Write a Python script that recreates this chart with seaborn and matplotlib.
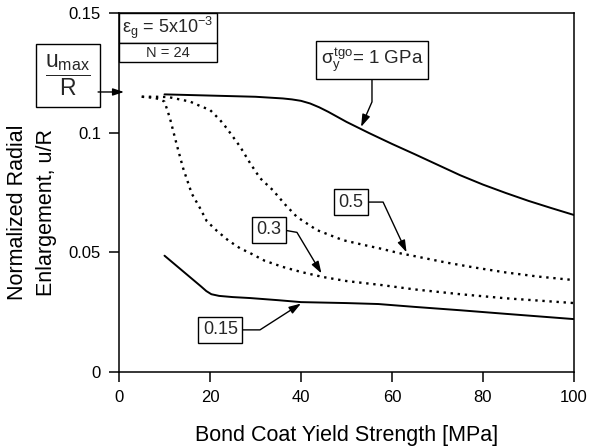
import matplotlib
matplotlib.use('Agg')
import matplotlib.pyplot as plt
import seaborn as sns
import pandas as pd
from matplotlib.patches import Rectangle

# ---------------- data ----------------
x_1gpa = [10, 20, 30, 36, 38, 40, 42, 44, 46, 48, 50, 55, 60, 65, 70, 75, 80, 85, 90, 95, 100]
y_1gpa = [.1160, .1155, .1150, .1143, .1139, .1133, .1122, .1106, .1087, .1066, .1045,
          .0998, .0953, .0910, .0866, .0822, .0783, .0748, .0715, .0685, .0656]

x_05 = [5, 8, 10.8, 15.6, 18, 20, 22.2, 23.7, 26.6, 28.8, 31, 33.8, 36.5, 39.1,
        43.5, 49.2, 54, 57.4, 61.5, 65, 72, 78.3, 85, 92, 100]
y_05 = [.1150, .1150, .1149, .1130, .1110, .1095, .1053, .1018, .0942, .0873,
        .0810, .0760, .0700, .0648, .0593, .0551, .0530, .0516, .0497, .0484,
        .0457, .0436, .0416, .0399, .0384]

x_03 = [5, 8, 10, 11.2, 12.7, 14.1, 16, 17.8, 19.3, 21.5, 24, 26.6, 28.8, 32, 36,
        40, 44.8, 50, 57.4, 65, 75, 85, 100]
y_03 = [.1150, .1145, .1130, .1060, .0949, .0851, .0745, .0685, .0630, .0590,
        .0550, .0517, .0497, .0465, .0439, .0418, .0397, .0380, .0364, .0345,
        .0325, .0308, .0288]

x_015 = [10, 12, 14, 16, 18, 19.2, 20.3, 22, 25, 28.8, 35, 40, 50, 57, 65, 75, 85, 100]
y_015 = [.0486, .0454, .0422, .0390, .0358, .0338, .0325, .0318, .0313, .0309,
         .0300, .0292, .0288, .0284, .0272, .0258, .0243, .0221]

series_labels = ['1 GPa', '0.5', '0.3', '0.15']
x_ticks = [0, 20, 40, 60, 80, 100]
y_ticks = [0, 0.05, 0.1, 0.15]
y_tick_labels = ['0', '0.05', '0.1', '0.15']

# ---------------- style ----------------
sns.set_theme(style='ticks')
plt.rcParams['font.family'] = ['Liberation Sans', 'DejaVu Sans']
plt.rcParams['mathtext.fontset'] = 'custom'
plt.rcParams['mathtext.rm'] = 'Liberation Sans'
plt.rcParams['mathtext.it'] = 'Liberation Sans'
plt.rcParams['mathtext.sf'] = 'Liberation Sans'
plt.rcParams['mathtext.bf'] = 'Liberation Sans:bold'

fig = plt.figure(figsize=(5.91, 4.48), dpi=100)
ax = fig.add_axes([119 / 591, 1 - 372 / 448, 455 / 591, 359 / 448])

frames = []
for lab, xs, ys in zip(series_labels, [x_1gpa, x_05, x_03, x_015],
                       [y_1gpa, y_05, y_03, y_015]):
    frames.append(pd.DataFrame({'x': xs, 'y': ys, 'series': lab}))
df = pd.concat(frames, ignore_index=True)

styles = {'1 GPa': '-', '0.5': (0, (1, 2)), '0.3': (0, (1, 2)), '0.15': '-'}
widths = {'1 GPa': 1.4, '0.5': 1.7, '0.3': 1.7, '0.15': 1.4}
for lab in series_labels:
    sub = df[df['series'] == lab]
    sns.lineplot(data=sub, x='x', y='y', ax=ax, color='black',
                 linestyle=styles[lab], linewidth=widths[lab], legend=False)

ax.set_xlim(0, 100)
ax.set_ylim(0, 0.15)
ax.set_xticks(x_ticks)
ax.set_yticks(y_ticks)
ax.set_yticklabels(y_tick_labels)
ax.tick_params(axis='both', direction='out', length=7, width=1.1,
               labelsize=12, color='black', labelcolor='black')
ax.tick_params(axis='y', pad=6)
ax.tick_params(axis='x', pad=6)
for s in ax.spines.values():
    s.set_visible(True)
    s.set_linewidth(1.1)
    s.set_color('black')

ax.set_xlabel('Bond Coat Yield Strength [MPa]', fontsize=15.5, color='black', labelpad=14)
ax.set_ylabel('')
fig.text(32 / 591, 1 - 212 / 448, 'Normalized Radial\nEnlargement, u/R',
         rotation=90, ha='center', va='center', fontsize=15.5, color='black',
         multialignment='center', linespacing=1.5)

# ---------------- annotations ----------------
bbox = dict(boxstyle='square,pad=0.25', fc='white', ec='black', lw=1.0)


def arrowp(**kw):
    d = dict(arrowstyle='-|>,head_length=0.55,head_width=0.18', color='black',
             lw=1.0, shrinkA=0, shrinkB=0)
    d.update(kw)
    return d


ax.annotate(r'$\sigma_y^{tgo}$= 1 GPa', xy=(53.2, 0.1024), xytext=(55.6, 0.1304),
            textcoords='data', ha='center', va='center', fontsize=13.5, bbox=bbox,
            arrowprops=arrowp(relpos=(0.5, 0.0),
                              connectionstyle='arc,angleA=-90,armA=28,angleB=90,armB=0,rad=0'))

ax.annotate('0.5', xy=(63.2, 0.0500), xytext=(50.9, 0.0710), textcoords='data',
            ha='center', va='center', fontsize=13, bbox=bbox,
            arrowprops=arrowp(relpos=(1.0, 0.5),
                              connectionstyle='arc,angleA=0,armA=20,angleB=90,armB=0,rad=0'))

ax.annotate('0.3', xy=(44.5, 0.0412), xytext=(32.9, 0.0595), textcoords='data',
            ha='center', va='center', fontsize=13, bbox=bbox,
            arrowprops=arrowp(relpos=(1.0, 0.5),
                              connectionstyle='arc,angleA=-10,armA=16,angleB=90,armB=0,rad=0'))

ax.annotate('0.15', xy=(40.0, 0.0286), xytext=(22.3, 0.0176), textcoords='data',
            ha='center', va='center', fontsize=13, bbox=bbox,
            arrowprops=arrowp(relpos=(1.0, 0.5),
                              connectionstyle='arc,angleA=0,armA=22,angleB=90,armB=0,rad=0'))

# u_max / R box with arrow pointing at the axis
ax.text(-11.2, 0.1239, r'$\dfrac{\mathregular{u}_{\mathregular{max}}}{\mathregular{R}}$',
        ha='center', va='center', fontsize=16.5,
        bbox=dict(boxstyle='square,pad=0.4', fc='white', ec='black', lw=1.0),
        clip_on=False)
ax.annotate('', xy=(1.1, 0.117), xytext=(-4.6, 0.117), textcoords='data',
            annotation_clip=False, arrowprops=arrowp())

# epsilon / N boxes in the top-left corner
ax.add_patch(Rectangle((0, 1 - 30 / 359), 98 / 455, 30 / 359, transform=ax.transAxes,
                       fc='white', ec='black', lw=1.0, clip_on=False, zorder=5))
ax.add_patch(Rectangle((0, 1 - 49 / 359), 98 / 455, 19 / 359, transform=ax.transAxes,
                       fc='white', ec='black', lw=1.0, clip_on=False, zorder=5))
ax.text(49 / 455, 1 - 15 / 359, r'$\varepsilon_{\mathregular{g}}$ = 5x10$^{\mathregular{-3}}$',
        transform=ax.transAxes, ha='center', va='center', fontsize=13, zorder=6)
ax.text(49 / 455, 1 - 40 / 359, 'N = 24', transform=ax.transAxes, ha='center',
        va='center', fontsize=10.5, zorder=6)

fig.savefig('out.png', dpi=100)
